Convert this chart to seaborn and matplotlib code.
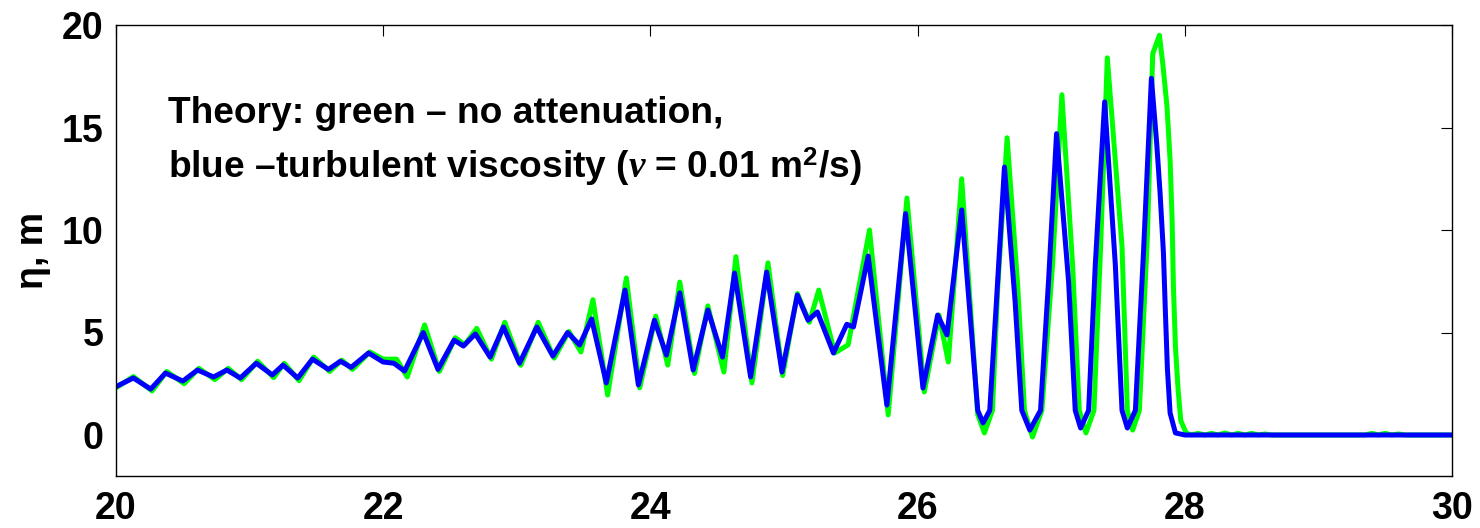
import matplotlib
matplotlib.use("Agg")
import matplotlib.pyplot as plt
import seaborn as sns
import pandas as pd

# ---- data ----
x_blue = [20.00, 20.13, 20.26, 20.37, 20.50, 20.61, 20.73, 20.83, 20.93, 21.05,
          21.17, 21.25, 21.36, 21.47, 21.59, 21.68, 21.76, 21.89, 22.00, 22.08,
          22.16, 22.30, 22.41, 22.53, 22.60, 22.69, 22.80, 22.90, 23.02, 23.15,
          23.27, 23.38, 23.47, 23.56, 23.67, 23.81, 23.91, 24.03, 24.12, 24.22,
          24.32, 24.43, 24.54, 24.63, 24.75, 24.87, 24.985, 25.10, 25.18, 25.25,
          25.37, 25.47, 25.52, 25.63, 25.77, 25.91, 26.04, 26.15, 26.22, 26.33,
          26.45, 26.49, 26.54, 26.59, 26.65, 26.73, 26.78, 26.84, 26.92, 26.98,
          27.04, 27.13, 27.18, 27.22, 27.28, 27.33, 27.40, 27.48, 27.53, 27.57,
          27.63, 27.69, 27.75, 27.79, 27.815, 27.84, 27.855, 27.87, 27.89, 27.93,
          28.00, 30.00]
y_blue = [2.36, 2.78, 2.24, 3.02, 2.63, 3.17, 2.83, 3.17, 2.78, 3.50,
          2.93, 3.41, 2.78, 3.70, 3.20, 3.60, 3.30, 4.00, 3.56, 3.50,
          3.12, 5.00, 3.20, 4.63, 4.34, 4.93, 3.80, 5.27, 3.50, 5.27,
          3.85, 5.00, 4.39, 5.66, 2.54, 7.07, 2.44, 5.60, 3.90, 6.93,
          3.17, 6.10, 3.80, 7.90, 2.83, 7.95, 3.07, 6.83, 5.60, 6.00,
          4.00, 5.40, 5.27, 8.73, 1.46, 10.80, 2.29, 5.85, 4.88, 10.98,
          1.20, 0.59, 1.20, 6.50, 13.07, 6.50, 1.20, 0.24, 1.20, 7.50,
          14.70, 7.50, 1.20, 0.34, 1.20, 8.30, 16.25, 8.30, 1.20, 0.34,
          1.20, 8.80, 17.40, 14.20, 11.80, 8.90, 5.95, 3.20, 1.07, 0.10,
          0.00, 0.00]

x_green = [20.00, 20.13, 20.27, 20.38, 20.51, 20.62, 20.74, 20.84, 20.94, 21.06,
           21.18, 21.26, 21.37, 21.48, 21.60, 21.69, 21.77, 21.90, 22.00, 22.10,
           22.18, 22.31, 22.42, 22.54, 22.61, 22.70, 22.81, 22.91, 23.03, 23.16,
           23.28, 23.39, 23.48, 23.57, 23.68, 23.82, 23.92, 24.04, 24.13, 24.22,
           24.33, 24.43, 24.55, 24.64, 24.76, 24.88, 24.99, 25.10, 25.19, 25.26,
           25.38, 25.48, 25.64, 25.78, 25.92, 26.05, 26.16, 26.23, 26.33, 26.45,
           26.50, 26.56, 26.60, 26.67, 26.75, 26.80, 26.86, 26.93, 27.01, 27.08,
           27.16, 27.21, 27.26, 27.32, 27.37, 27.42, 27.53, 27.57, 27.61, 27.66,
           27.72, 27.76, 27.81, 27.837, 27.867, 27.89, 27.905, 27.915, 27.93, 27.95,
           27.97, 28.01, 28.05, 28.10, 28.15, 28.20, 28.25, 28.30, 28.35, 28.40,
           28.45, 28.50, 28.55, 28.60, 28.65, 29.35, 29.40, 29.45, 29.50, 29.55,
           29.60, 29.65, 30.00]
y_green = [2.30, 2.85, 2.15, 3.10, 2.50, 3.25, 2.70, 3.25, 2.70, 3.60,
           2.80, 3.50, 2.65, 3.80, 3.10, 3.65, 3.20, 4.05, 3.70, 3.70,
           2.83, 5.37, 3.10, 4.75, 4.40, 5.20, 3.70, 5.50, 3.40, 5.50,
           3.75, 5.05, 4.05, 6.60, 1.95, 7.66, 2.30, 5.80, 3.41, 7.46,
           3.00, 6.30, 3.07, 8.70, 2.54, 8.40, 2.90, 6.90, 5.50, 7.07,
           4.00, 4.40, 10.00, 0.98, 11.56, 2.10, 5.85, 3.56, 12.50, 1.00,
           0.10, 1.20, 7.20, 14.50, 7.20, 1.20, -0.10, 1.20, 8.30, 16.60,
           8.30, 1.20, 0.10, 1.20, 9.20, 18.40, 9.20, 1.20, 0.24, 1.20,
           9.70, 18.60, 19.50, 18.00, 16.00, 13.40, 10.50, 7.20, 4.30, 2.20,
           0.70, 0.10, 0.00, 0.08, 0.00, 0.08, 0.00, 0.10, 0.00, 0.08,
           0.00, 0.08, 0.00, 0.05, 0.00, 0.00, 0.08, 0.00, 0.08, 0.00,
           0.05, 0.00, 0.00]

x_ticks = [20, 22, 24, 26, 28, 30]
y_ticks = [0, 5, 10, 15, 20]
annotation = ["Theory: green \u2013 no attenuation,",
              "blue \u2013turbulent viscosity ($\\mathit{\\nu}$ = 0.01 m$^\\mathbf{2}$/s)"]
y_label = "\u03b7, m"

# ---- style ----
sns.set_style("white")
plt.rcParams["font.family"] = ["Liberation Sans", "DejaVu Sans"]
plt.rcParams["font.weight"] = "bold"
plt.rcParams["text.color"] = "black"
plt.rcParams["axes.labelcolor"] = "black"
plt.rcParams["xtick.color"] = "black"
plt.rcParams["ytick.color"] = "black"
plt.rcParams["mathtext.fontset"] = "custom"
plt.rcParams["mathtext.it"] = "Liberation Serif:italic:bold"
plt.rcParams["mathtext.rm"] = "Liberation Sans:bold"
plt.rcParams["mathtext.bf"] = "Liberation Sans:bold"

W, H = 1480, 528
fig = plt.figure(figsize=(W / 100, H / 100), dpi=100)
ax = fig.add_axes([116 / W, 1 - 476 / H, (1452 - 116) / W, (476 - 25) / H])

df_g = pd.DataFrame({"x": x_green, "y": y_green})
df_b = pd.DataFrame({"x": x_blue, "y": y_blue})
sns.lineplot(data=df_g, x="x", y="y", sort=False, estimator=None,
             color="#00ff00", linewidth=3.6, ax=ax)
sns.lineplot(data=df_b, x="x", y="y", sort=False, estimator=None,
             color="#0000ff", linewidth=3.6, ax=ax)

ax.set_xlim(20, 30)
ax.set_ylim(-2, 20)
ax.set_xticks(x_ticks)
ax.set_yticks(y_ticks)
ax.set_xticklabels([str(t) for t in x_ticks], fontsize=27, fontweight="bold", color="black")
ax.set_yticklabels([str(t) for t in y_ticks], fontsize=27, fontweight="bold", color="black")
ax.tick_params(axis="x", direction="in", length=8, width=0.8, top=True,
               colors="black", pad=11)
ax.tick_params(axis="y", direction="in", length=8, width=0.8, right=True,
               colors="black", pad=9)
ax.set_xlabel("")
ax.set_ylabel(y_label, fontsize=27, fontweight="bold", labelpad=8, color="black")
for s in ax.spines.values():
    s.set_color("black")
    s.set_linewidth(1.0)

# annotation lines: left edge at px 168, baselines at px 123 and 178
fs = 26.8
t1 = fig.text(168 / W, 1 - 123 / H, annotation[0], color="black",
              fontsize=fs, fontweight="bold", va="baseline", ha="left")
t2 = fig.text(168 / W, 1 - 178 / H, annotation[1], color="black",
              fontsize=fs, fontweight="bold", va="baseline", ha="left")
fig.canvas.draw()
r = fig.canvas.get_renderer()
w2 = t2.get_window_extent(r).width
if w2 > 0:
    new_fs = fs * (862 - 168) / w2
    t1.set_fontsize(new_fs)
    t2.set_fontsize(new_fs)

fig.savefig("out.png", dpi=100)
